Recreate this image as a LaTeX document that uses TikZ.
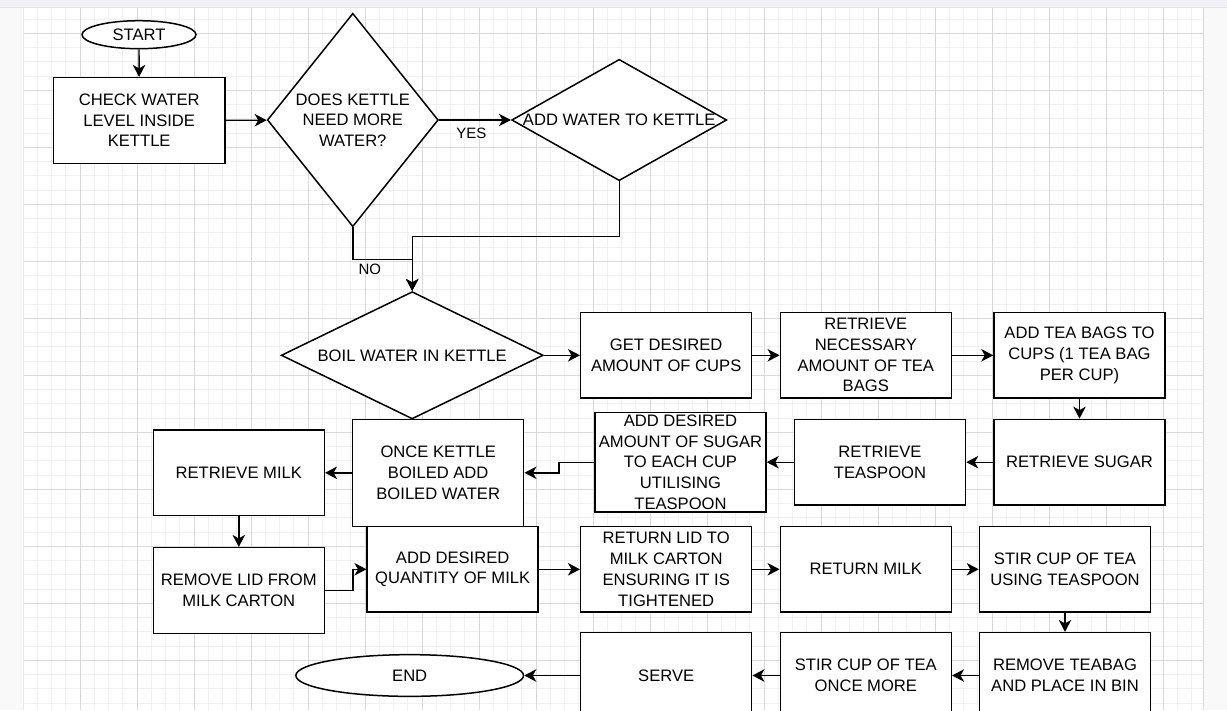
\documentclass[tikz,border=0pt]{standalone}
\usepackage{fontspec}
\setmainfont{Liberation Sans}
\usetikzlibrary{arrows.meta,shapes.geometric}
\definecolor{gridminor}{HTML}{F1F1F1}
\definecolor{gridmajor}{HTML}{D9D9D9}
\definecolor{paneback}{HTML}{F9F9F9}
\definecolor{topbar}{HTML}{F1F1F4}
\newcommand{\flowfont}{\fontsize{16.6}{20.7}\selectfont}
\newcommand{\labfont}{\fontsize{15}{18}\selectfont}

\begin{document}
\begin{tikzpicture}[x=1pt,y=-1pt,
  box/.style={draw=black,line width=1.5pt,fill=white,minimum width=171pt,minimum height=85.7pt,inner sep=0pt,align=center,font=\flowfont},
  decision/.style={diamond,draw=black,line width=1.5pt,fill=white,inner sep=0pt},
  terminal/.style={ellipse,draw=black,line width=1.5pt,fill=white,inner sep=0pt,font=\flowfont},
  flowtext/.style={align=center,font=\flowfont,inner sep=0pt},
  edgelab/.style={font=\labfont,inner sep=1pt},
  flow/.style={line width=1.4pt,-{Stealth[length=12pt,width=12.5pt,inset=3.5pt]}}]
\useasboundingbox (0,0) rectangle (1227,710);
\clip (0,0) rectangle (1227,710);
% editor pane, top bar and white canvas
\fill[paneback] (0,0) rectangle (1227,710);
\fill[topbar] (0,0) rectangle (1227,7.3);
\draw[gridmajor!70] (0,7.3) -- (1227,7.3);
\fill[white] (23,7.8) rectangle (1202.5,710);
% grid: minor every 14.25, major every 57
\foreach \i in {0,...,82} \draw[gridminor,line width=0.8pt] ({23+14.25*\i},7.8) -- ({23+14.25*\i},710);
\foreach \j in {-1,...,47} \draw[gridminor,line width=0.8pt] (23,{33.3+14.25*\j}) -- (1202.5,{33.3+14.25*\j});
\foreach \i in {0,...,20} \draw[gridmajor,line width=0.8pt] ({23+57*\i},7.8) -- ({23+57*\i},710);
\foreach \j in {0,...,11} \draw[gridmajor,line width=0.8pt] (23,{33.3+57*\j}) -- (1202.5,{33.3+57*\j});
\draw[gridmajor,line width=1pt] (1203,7.8) -- (1203,710);
\draw[gridmajor!60,line width=1pt] (23,7.8) -- (23,710);

% kettle check
\node[terminal,minimum width=114pt,minimum height=28pt] (start) at (139,34.7) {START};
\node[box,minimum width=171.7pt] (check) at (139.2,120.5) {CHECK WATER\\LEVEL INSIDE\\KETTLE};
\node[decision,minimum width=171pt,minimum height=213.4pt] (need) at (352.8,120) {};
\node[flowtext] (needtext) at (need) {DOES KETTLE\\NEED MORE\\WATER?};
\node[decision,minimum width=215pt,minimum height=121.4pt] (addw) at (619.2,120) {};
\node[flowtext] (addwtext) at (addw) {ADD WATER TO KETTLE};
\node[decision,minimum width=262pt,minimum height=127.3pt] (boil) at (412.2,355.3) {};
\node[flowtext] (boiltext) at (boil) {BOIL WATER IN KETTLE};

% cups, bags, sugar
\node[box] (cups) at (666.2,355.3) {GET DESIRED\\AMOUNT OF CUPS};
\node[box] (bags) at (865.8,355.3) {RETRIEVE\\NECESSARY\\AMOUNT OF TEA\\BAGS};
\node[box] (teabags) at (1079.5,355.3) {ADD TEA BAGS TO\\CUPS (1 TEA BAG\\PER CUP)};
\node[box] (rsugar) at (1079.5,462.2) {RETRIEVE SUGAR};
\node[box] (rspoon) at (880,462.2) {RETRIEVE\\TEASPOON};
\node[box,minimum height=99.3pt] (addsugar) at (680.5,462.2) {ADD DESIRED\\AMOUNT OF SUGAR\\TO EACH CUP\\UTILISING\\TEASPOON};
\node[box,minimum height=107pt] (kettle) at (438.2,472.8) {ONCE KETTLE\\BOILED ADD\\BOILED WATER};

% milk and finishing
\node[box] (rmilk) at (238.8,472.8) {RETRIEVE MILK};
\node[box] (lid) at (238.8,590.5) {REMOVE LID FROM\\MILK CARTON};
\node[box] (addmilk) at (452.7,569.3) {ADD DESIRED\\QUANTITY OF MILK};
\node[box] (retlid) at (666.2,569.3) {RETURN LID TO\\MILK CARTON\\ENSURING IT IS\\TIGHTENED};
\node[box] (retmilk) at (865.8,569.3) {RETURN MILK};
\node[box] (stir) at (1065,569.3) {STIR CUP OF TEA\\USING TEASPOON};
\node[box] (teabag) at (1065,675.5) {REMOVE TEABAG\\AND PLACE IN BIN};
\node[box] (once) at (865.8,675.5) {STIR CUP OF TEA\\ONCE MORE};
\node[box] (serve) at (666.2,675.5) {SERVE};
\node[terminal,minimum width=227.7pt,minimum height=41.7pt] (end) at (409.7,675.5) {END};

% connectors
\draw[flow] (start) -- (check);
\draw[flow] (check) -- (need);
\draw[flow] (need) -- node[edgelab,fill=white,below=6pt,pos=0.45] (yes) {YES} (addw);
\draw[flow] (need.south) -- ++(0,32) node[edgelab,anchor=north west,xshift=4pt,yshift=-3pt] (no) {NO} -| (boil.north);
\draw[flow] (addw.south) -- ++(0,55.3) -| (boil.north);
\draw[flow] (boil) -- (cups);
\draw[flow] (cups) -- (bags);
\draw[flow] (bags) -- (teabags);
\draw[flow] (teabags) -- (rsugar);
\draw[flow] (rsugar) -- (rspoon);
\draw[flow] (rspoon) -- (addsugar);
\draw[flow] (addsugar.west) -- ++(-35.4,0) |- (kettle.east);
\draw[flow] (kettle) -- (rmilk);
\draw[flow] (rmilk) -- (lid);
\draw[flow] (lid.east) -- ++(28,0) |- (addmilk.west);
\draw[flow] (addmilk) -- (retlid);
\draw[flow] (retlid) -- (retmilk);
\draw[flow] (retmilk) -- (stir);
\draw[flow] (stir) -- (teabag);
\draw[flow] (teabag) -- (once);
\draw[flow] (once) -- (serve);
\draw[flow] (serve) -- (end);
\end{tikzpicture}
\end{document}
